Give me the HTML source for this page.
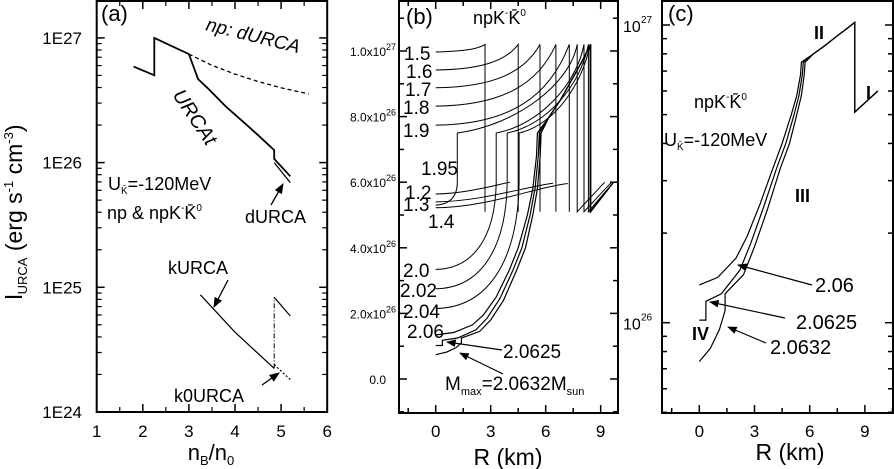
<!DOCTYPE html>
<html><head><meta charset="utf-8"><style>
html,body{margin:0;padding:0;background:#fff;}
svg{display:block;font-family:"Liberation Sans",Arial,sans-serif;}
</style></head><body>
<svg id="fig" width="894" height="469" viewBox="0 0 894 469" xmlns="http://www.w3.org/2000/svg">
<g id="pa"></g>
<g id="pb"></g>
<g id="pc"></g>
</svg>
<script>
// ---- Panel (a) data: n_B/n_0 vs log10 luminosity ----
const aUrcatN = [1.8, 2.25, 2.25, 3.0, 3.2, 3.4, 3.8, 4.2, 4.5, 4.85, 4.85, 5.2];
const aUrcatL = [26.77, 26.70, 27.0, 26.87, 26.67, 26.60, 26.45, 26.32, 26.22, 26.10, 26.03, 25.89];
const aUrcat2N = [4.85, 5.2];
const aUrcat2L = [26.0, 25.84];
const aNpN = [3.0, 3.5, 4.0, 4.5, 5.0, 5.6];
const aNpL = [26.87, 26.78, 26.71, 26.65, 26.60, 26.55];
const aKN = [3.25, 4.0, 4.85];
const aKL = [24.94, 24.64, 24.35];
const aKjN = [4.85, 4.85];
const aKjL = [24.35, 24.92];
const aK2N = [4.85, 5.2];
const aK2L = [24.92, 24.77];
const aK0N = [4.85, 5.2];
const aK0L = [24.38, 24.26];
const aXTicks = [1, 2, 3, 4, 5, 6];
const aYTicks = [24, 25, 26, 27];
const aYLabels = ["1E24", "1E25", "1E26", "1E27"];

// ---- Panel (b)/(c) data: R (km) vs L (units 1e26) ----
const bMasses = ["1.5", "1.6", "1.7", "1.8", "1.9"];
const bStart = [9.97, 9.42, 8.88, 8.32, 7.74];
const bDrop = [2.69, 4.5, 5.69, 6.56, 7.29];
const lowMasses = ["1.2", "1.3", "1.4"];
const lowStart = [5.64, 5.4, 5.22];
const lowEndR = [4.05, 6.4, 7.2];
const lowEndL = [6.0, 5.97, 5.96];
const midMasses = ["1.95", "2.0", "2.02", "2.04"];
const midStart = [5.3, 3.34, 2.75, 2.15];
const midVertR = [1.18, 3.3, 3.9, 4.55];
const midDrop = [7.72, 8.09, 8.33, 8.42];
const c206R = [0, 1, 2, 2.6, 3.3, 4, 4.5, 5, 5.3, 5.5, 5.55, 6.2, 6.8, 7.5, 8.0, 8.45, 8.45, 9.7];
const c206L = [1.34, 1.42, 1.65, 1.95, 2.5, 3.3, 4.0, 5.0, 5.8, 6.8, 7.5, 8.0, 8.5, 9.2, 9.7, 10.2, 5.1, 6.0];
const c2625R = [0, 0.36, 0.36, 1.2, 2.2, 2.8, 3.5, 4.2, 4.7, 5.15, 5.42, 5.6, 5.65, 6.2, 6.8, 7.5, 8.0, 8.45, 8.45, 9.7];
const c2625L = [1.02, 1.02, 1.18, 1.25, 1.5, 1.85, 2.45, 3.3, 4.0, 5.0, 5.8, 6.8, 7.5, 8.0, 8.5, 9.2, 9.7, 10.2, 5.1, 6.0];
const c2632R = [0, 0.6, 1.1, 1.4, 1.4, 2.4, 3.0, 3.7, 4.4, 4.9, 5.3, 5.55, 5.7, 5.75, 6.2, 6.8, 7.5, 8.0, 8.45, 8.45, 9.7];
const c2632L = [0.74, 0.82, 0.95, 1.1, 1.25, 1.45, 1.8, 2.4, 3.3, 4.0, 5.0, 5.8, 6.8, 7.5, 8.0, 8.5, 9.2, 9.7, 10.2, 5.1, 6.0];
const bYTicks = [0, 2, 4, 6, 8, 10];
const bYLabels = ["0.0", "2.0x10", "4.0x10", "6.0x10", "8.0x10", "1.0x10"];
const bYExp = ["", "26", "26", "26", "26", "27"];
const rTicks = [0, 3, 6, 9];

const NS = "http://www.w3.org/2000/svg";
function mk(parent, tag, attrs, text) {
  const e = document.createElementNS(NS, tag);
  for (const k in attrs) e.setAttribute(k, attrs[k]);
  if (text !== undefined) e.textContent = text;
  parent.appendChild(e);
  return e;
}
function pathD(xs, ys, fx, fy) {
  let d = "";
  for (let i = 0; i < xs.length; i++) d += (i ? "L" : "M") + fx(xs[i]).toFixed(1) + "," + fy(ys[i]).toFixed(1);
  return d;
}
function P(fx, fy, r, v) { return fx(r).toFixed(1) + "," + fy(v).toFixed(1); }

// ===== Panel A =====
const A = document.getElementById("pa");
const ax = n => 96.7 + (n - 1) * 46.1;
const ay = l => 412 - (l - 24) * 124.7;
function aLine(xs, ys, name, dash, w) {
  const p = mk(A, "path", {d: pathD(xs, ys, ax, ay), fill: "none", stroke: "#000", "stroke-width": w || 1.5});
  if (dash) p.setAttribute("stroke-dasharray", dash);
  
  
}
aLine(aUrcatN, aUrcatL, "urcat-line", null, 1.8);
aLine(aUrcat2N, aUrcat2L, "durca-line", null, 1.3);
aLine(aNpN, aNpL, "np-durca-line", "4,3", 1.3);
aLine(aKN, aKL, "kurca-line", null, 1.2);
aLine(aKjN, aKjL, "kurca-jump-line", "5,2,1,2", 1);
aLine(aK2N, aK2L, "kurca-high-line", null, 1.2);
aLine(aK0N, aK0L, "k0urca-line", "2,2", 1.2);
{
  const f = mk(A, "rect", {x: 96.7, y: 1, width: 230.5, height: 411, fill: "none", stroke: "#000", "stroke-width": 2});
  
  
  aXTicks.forEach(t => {
    mk(A, "line", {x1: ax(t), x2: ax(t), y1: 412, y2: 404, stroke: "#000", "stroke-width": 1.5});
    mk(A, "line", {x1: ax(t), x2: ax(t), y1: 1, y2: 9, stroke: "#000", "stroke-width": 1.5});
    if (t < 6) {
      mk(A, "line", {x1: ax(t + 0.5), x2: ax(t + 0.5), y1: 412, y2: 407, stroke: "#000", "stroke-width": 1.2});
      mk(A, "line", {x1: ax(t + 0.5), x2: ax(t + 0.5), y1: 1, y2: 6, stroke: "#000", "stroke-width": 1.2});
    }
    const tl = mk(A, "text", {x: ax(t), y: 437, "font-size": 17, "text-anchor": "middle"}, String(t));
    
    
  });
  aYTicks.forEach((t, i) => {
    mk(A, "line", {x1: 96.7, x2: 104.7, y1: ay(t), y2: ay(t), stroke: "#000", "stroke-width": 1.5});
    mk(A, "line", {x1: 327.2, x2: 319.2, y1: ay(t), y2: ay(t), stroke: "#000", "stroke-width": 1.5});
    for (let m = 2; m <= 9; m++) {
      const yy = ay(t + Math.log10(m));
      if (yy < 2) continue;
      mk(A, "line", {x1: 96.7, x2: 101.7, y1: yy, y2: yy, stroke: "#000", "stroke-width": 1.2});
      mk(A, "line", {x1: 327.2, x2: 322.2, y1: yy, y2: yy, stroke: "#000", "stroke-width": 1.2});
    }
    const tl = mk(A, "text", {x: 82, y: ay(t) + 6, "font-size": 17, "text-anchor": "end"}, aYLabels[i]);
    
    
  });
}

// ===== Panel B =====
const B = document.getElementById("pb");
const bx = r => 435.7 + r * 18.33;
const by = v => 379 - v * 32.8;
function bLine(xs, ys, name, w) {
  const p = mk(B, "path", {d: pathD(xs, ys, bx, by), fill: "none", stroke: "#000", "stroke-width": w || 1});
  
  
}
function bPath(d, name) {
  const p = mk(B, "path", {d: d, fill: "none", stroke: "#000", "stroke-width": 1});
  
  
}
bMasses.forEach((m, i) => {
  const rd = bDrop[i], s = bStart[i];
  const d = "M" + P(bx, by, 0, s) + " C" + P(bx, by, rd * 0.55, s + 0.02) + " " + P(bx, by, rd * 0.85, s + (10.2 - s) * 0.35) + " " + P(bx, by, rd, 10.2) + " L" + P(bx, by, rd, 5.1);
  bPath(d, "curve-m" + m);
});
lowMasses.forEach((m, i) => {
  const re = lowEndR[i], s = lowStart[i], e = lowEndL[i];
  const d = "M" + P(bx, by, 0, s) + " C" + P(bx, by, re * 0.4, s + 0.02) + " " + P(bx, by, re * 0.75, e - 0.12) + " " + P(bx, by, re, e);
  bPath(d, "curve-m" + m);
});
midMasses.forEach((m, i) => {
  const rv = midVertR[i], s = midStart[i], rd = midDrop[i];
  const d = "M" + P(bx, by, 0, s) + " C" + P(bx, by, rv * 0.6, s + 0.02) + " " + P(bx, by, rv * 0.98, s + (5.96 - s) * 0.35) + " " + P(bx, by, rv, 5.96) +
    " L" + P(bx, by, rv, 7.5) + " C" + P(bx, by, rv + (rd - rv) * 0.5, 7.75) + " " + P(bx, by, rd - 0.4, 9.0) + " " + P(bx, by, rd, 10.2) +
    " L" + P(bx, by, rd, 5.1) + " L" + P(bx, by, Math.min(rd + 1.5, 9.7), 6.0);
  bPath(d, "curve-m" + m);
});
bLine(c206R, c206L, "curve-m2.06", 1.2);
bLine(c2625R, c2625L, "curve-m2.0625", 1.2);
bLine(c2632R, c2632L, "curve-m2.0632", 1.2);
{
  const f = mk(B, "rect", {x: 399, y: 1, width: 219, height: 412, fill: "none", stroke: "#000", "stroke-width": 2});
  
  
  for (let v = -1; v <= 11; v++) {
    const major = bYTicks.includes(v);
    const L = major ? 8 : 5;
    mk(B, "line", {x1: 399, x2: 399 + L, y1: by(v), y2: by(v), stroke: "#000", "stroke-width": 1.5});
    mk(B, "line", {x1: 618, x2: 618 - L, y1: by(v), y2: by(v), stroke: "#000", "stroke-width": 1.5});
  }
  bYTicks.forEach((t, i) => {
    const tl = mk(B, "text", {x: 386, y: by(t) + 5, "font-size": 12, "text-anchor": "end"}, bYLabels[i]);
    
    
    if (bYExp[i]) mk(B, "text", {x: 386, y: by(t) - 1, "font-size": 9}, bYExp[i]);
  });
  for (let r = -1.5; r <= 10; r += 1.5) {
    const major = rTicks.includes(r);
    const L = major ? 8 : 5;
    mk(B, "line", {x1: bx(r), x2: bx(r), y1: 413, y2: 413 - L, stroke: "#000", "stroke-width": 1.5});
    mk(B, "line", {x1: bx(r), x2: bx(r), y1: 1, y2: 1 + L, stroke: "#000", "stroke-width": 1.5});
  }
  rTicks.forEach(t => {
    const tl = mk(B, "text", {x: bx(t), y: 437, "font-size": 17, "text-anchor": "middle"}, String(t));
    
    
  });
}

// ===== Panel C =====
const C = document.getElementById("pc");
const cx = r => 699.3 + r * 18.4;
const cy = v => 25 - (Math.log10(v * 1e26) - 27) * 297.7;
function cLine(xs, ys, name) {
  const p = mk(C, "path", {d: pathD(xs, ys, cx, cy), fill: "none", stroke: "#000", "stroke-width": 1.2});
  
  
}
cLine(c206R, c206L, "c-curve-2.06");
cLine(c2625R, c2625L, "c-curve-2.0625");
cLine(c2632R, c2632L, "c-curve-2.0632");
{
  const f = mk(C, "rect", {x: 662, y: 1, width: 231, height: 412, fill: "none", stroke: "#000", "stroke-width": 2});
  
  
  const vals = [0.5, 0.6, 0.7, 0.8, 0.9, 1, 2, 3, 4, 5, 6, 7, 8, 9, 10];
  vals.forEach(v => {
    const major = v === 1 || v === 10;
    const L = major ? 8 : 5;
    const yy = cy(v);
    mk(C, "line", {x1: 662, x2: 662 + L, y1: yy, y2: yy, stroke: "#000", "stroke-width": 1.5});
    mk(C, "line", {x1: 893, x2: 893 - L, y1: yy, y2: yy, stroke: "#000", "stroke-width": 1.5});
  });
  [[1, "26"], [10, "27"]].forEach(p => {
    const t = mk(C, "text", {x: 623, y: cy(p[0]) + 7, "font-size": 16}, "10");
    
    
    mk(C, "text", {x: 641, y: cy(p[0]) - 2, "font-size": 10}, p[1]);
  });
  for (let r = -1.5; r <= 10.5; r += 1.5) {
    const major = rTicks.includes(r);
    const L = major ? 8 : 5;
    mk(C, "line", {x1: cx(r), x2: cx(r), y1: 413, y2: 413 - L, stroke: "#000", "stroke-width": 1.5});
  }
  rTicks.forEach(t => {
    const tl = mk(C, "text", {x: cx(t), y: 437, "font-size": 17, "text-anchor": "middle"}, String(t));
    
    
  });
}
</script>
<svg width="894" height="469" style="position:absolute;left:0;top:0" viewBox="0 0 894 469">
<defs><marker id="ar" viewBox="0 0 10 10" refX="9" refY="5" markerWidth="8" markerHeight="8" orient="auto"><path d="M0,1 L10,5 L0,9 z" fill="#000"/></marker></defs>
<g font-family="Liberation Sans, Arial, sans-serif" fill="#000">
<text x="22" y="212" font-size="23" text-anchor="middle" transform="rotate(-90 22 212)">l<tspan font-size="13" dy="5">URCA</tspan><tspan dy="-5"> (erg s</tspan><tspan font-size="13" dy="-9">-1</tspan><tspan dy="9"> cm</tspan><tspan font-size="13" dy="-9">-3</tspan><tspan dy="9">)</tspan></text>
<text x="211" y="460" font-size="22" text-anchor="middle">n<tspan font-size="13" dy="5">B</tspan><tspan dy="-5">/n</tspan><tspan font-size="13" dy="5">0</tspan></text>
<text x="508" y="465" font-size="23" text-anchor="middle">R (km)</text>
<text x="790" y="460" font-size="23" text-anchor="middle">R (km)</text>
<text x="101" y="21" font-size="22">(a)</text>
<text x="205" y="30" font-size="19" font-style="italic" transform="rotate(14 205 30)">np: dURCA</text>
<text x="172" y="95" font-size="20" font-style="italic" transform="rotate(56 172 95)">URCAt</text>
<text x="108" y="190" font-size="18">U<tspan font-size="10" dy="4">K̄</tspan><tspan dy="-4">=-120MeV</tspan></text>
<text x="107" y="219" font-size="18">np &amp; npK<tspan font-size="10" dy="-8">-</tspan><tspan dy="8">K̄</tspan><tspan font-size="10" dy="-8">0</tspan></text>
<text x="245" y="223" font-size="18">dURCA</text>
<line x1="271" y1="205" x2="283" y2="184" stroke="#000" stroke-width="1.3" marker-end="url(#ar)"/>
<text x="168" y="274" font-size="18">kURCA</text>
<line x1="228" y1="280" x2="214" y2="307" stroke="#000" stroke-width="1.3" marker-end="url(#ar)"/>
<text x="174" y="402" font-size="18">k0URCA</text>
<line x1="262" y1="385" x2="279" y2="373" stroke="#000" stroke-width="1.3" marker-end="url(#ar)"/>
<text x="406" y="24" font-size="22">(b)</text>
<text x="473" y="24" font-size="18">npK<tspan font-size="10" dy="-8">-</tspan><tspan dy="8">K̄</tspan><tspan font-size="10" dy="-8">0</tspan></text>
<g font-size="19">
<text x="404" y="60">1.5</text>
<text x="406" y="78">1.6</text>
<text x="405" y="96">1.7</text>
<text x="403" y="114">1.8</text>
<text x="403" y="137">1.9</text>
<text x="421" y="175">1.95</text>
<text x="405" y="199">1.2</text>
<text x="403" y="211">1.3</text>
<text x="428" y="228">1.4</text>
<text x="403" y="277">2.0</text>
<text x="400" y="297">2.02</text>
<text x="403" y="318">2.04</text>
<text x="407" y="338">2.06</text>
<text x="503" y="358">2.0625</text>
<text x="445" y="390">M<tspan font-size="11" dy="5">max</tspan><tspan dy="-5">=2.0632M</tspan><tspan font-size="11" dy="5">sun</tspan></text>
</g>
<line x1="502" y1="350" x2="447" y2="342" stroke="#000" stroke-width="1.2" marker-end="url(#ar)"/>
<line x1="503" y1="374" x2="460" y2="353" stroke="#000" stroke-width="1.2" marker-end="url(#ar)"/>
<text x="668" y="21" font-size="22">(c)</text>
<text x="694" y="108" font-size="18">npK<tspan font-size="10" dy="-8">-</tspan><tspan dy="8">K̄</tspan><tspan font-size="10" dy="-8">0</tspan></text>
<text x="664" y="146" font-size="18">U<tspan font-size="10" dy="4">K̄</tspan><tspan dy="-4">=-120MeV</tspan></text>
<text x="814" y="39" font-size="18" font-weight="bold">II</text>
<text x="866" y="99" font-size="18" font-weight="bold">I</text>
<text x="795" y="202" font-size="18" font-weight="bold">III</text>
<text x="692" y="340" font-size="18" font-weight="bold">IV</text>
<text x="815" y="292" font-size="20">2.06</text>
<line x1="812" y1="285" x2="738" y2="265" stroke="#000" stroke-width="1.2" marker-end="url(#ar)"/>
<text x="796" y="329" font-size="20">2.0625</text>
<line x1="785" y1="318" x2="710" y2="302" stroke="#000" stroke-width="1.2" marker-end="url(#ar)"/>
<text x="770" y="354" font-size="20">2.0632</text>
<line x1="766" y1="343" x2="728" y2="327" stroke="#000" stroke-width="1.2" marker-end="url(#ar)"/>
</g>
</svg>
</body></html>
